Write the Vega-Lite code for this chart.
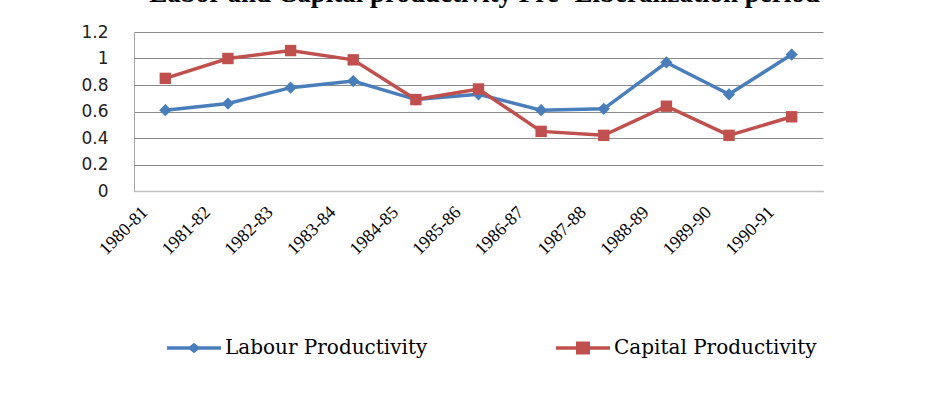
{
  "$schema": "https://vega.github.io/schema/vega-lite/v6.json",
  "width": 689,
  "height": 159,
  "autosize": {"type": "none"},
  "padding": {"left": 134, "top": 32, "right": 124, "bottom": 218},
  "background": "white",
  "title": {
    "text": "Labor and Capital productivity Pre- Liberalization period",
    "font": "Liberation Serif",
    "fontSize": 27,
    "fontWeight": "bold",
    "color": "black",
    "anchor": "middle",
    "frame": "group",
    "baseline": "alphabetic",
    "offset": 4,
    "dx": 6,
    "dy": 10
  },
  "config": {
    "view": {"stroke": null},
    "legend": {"padding": 0}
  },
  "data": {
    "values": [
      {"period": "1980-81", "series": "Labour Productivity", "value": 0.61},
      {"period": "1981-82", "series": "Labour Productivity", "value": 0.66},
      {"period": "1982-83", "series": "Labour Productivity", "value": 0.78},
      {"period": "1983-84", "series": "Labour Productivity", "value": 0.83},
      {"period": "1984-85", "series": "Labour Productivity", "value": 0.69},
      {"period": "1985-86", "series": "Labour Productivity", "value": 0.73},
      {"period": "1986-87", "series": "Labour Productivity", "value": 0.61},
      {"period": "1987-88", "series": "Labour Productivity", "value": 0.62},
      {"period": "1988-89", "series": "Labour Productivity", "value": 0.97},
      {"period": "1989-90", "series": "Labour Productivity", "value": 0.73},
      {"period": "1990-91", "series": "Labour Productivity", "value": 1.03},
      {"period": "1980-81", "series": "Capital Productivity", "value": 0.85},
      {"period": "1981-82", "series": "Capital Productivity", "value": 1.0},
      {"period": "1982-83", "series": "Capital Productivity", "value": 1.06},
      {"period": "1983-84", "series": "Capital Productivity", "value": 0.99},
      {"period": "1984-85", "series": "Capital Productivity", "value": 0.69},
      {"period": "1985-86", "series": "Capital Productivity", "value": 0.77},
      {"period": "1986-87", "series": "Capital Productivity", "value": 0.45},
      {"period": "1987-88", "series": "Capital Productivity", "value": 0.42},
      {"period": "1988-89", "series": "Capital Productivity", "value": 0.64},
      {"period": "1989-90", "series": "Capital Productivity", "value": 0.42},
      {"period": "1990-91", "series": "Capital Productivity", "value": 0.56}
    ]
  },
  "encoding": {
    "x": {
      "field": "period",
      "type": "ordinal",
      "sort": null,
      "scale": {"type": "point", "padding": 0.5},
      "axis": {
        "title": null,
        "labelAngle": -45,
        "labelFont": "Liberation Serif",
        "labelFontSize": 18,
        "labelColor": "black",
        "labelOffset": -27,
        "labelPadding": 12,
        "ticks": false,
        "domainColor": "#bfbfbf",
        "domainWidth": 1.5,
        "grid": false
      }
    },
    "y": {
      "field": "value",
      "type": "quantitative",
      "scale": {"domain": [0, 1.2], "nice": false},
      "axis": {
        "title": null,
        "values": [0, 0.2, 0.4, 0.6, 0.8, 1, 1.2],
        "format": ".1~f",
        "labelFont": "DejaVu Sans",
        "labelFontSize": 17,
        "labelColor": "#222222",
        "labelPadding": 26,
        "ticks": false,
        "domainColor": "#a6a6a6",
        "grid": true,
        "gridColor": "#8c8c8c",
        "gridWidth": 1
      }
    },
    "color": {
      "field": "series",
      "type": "nominal",
      "scale": {"domain": ["Labour Productivity", "Capital Productivity"], "range": ["#4a7ebb", "#c0504d"]},
      "legend": {
        "title": null,
        "orient": "none",
        "legendX": 33,
        "legendY": 289,
        "direction": "horizontal",
        "columnPadding": 128,
        "symbolSize": 2916,
        "symbolStrokeWidth": 0,
        "labelFont": "DejaVu Serif",
        "labelFontSize": 20,
        "labelColor": "black",
        "labelOffset": 4,
        "labelLimit": 400,
        "encode": {
          "symbols": {
            "update": {
              "shape": {"signal": "datum.value === 'Labour Productivity' ? 'M-1,-0.065H1V0.065H-1Z M-0.24,0L0,-0.19L0.24,0L0,0.19Z' : 'M-1,-0.065H1V0.065H-1Z M-0.26,-0.24H0.26V0.24H-0.26Z'"},
              "fill": {"signal": "datum.value === 'Labour Productivity' ? '#4a7ebb' : '#c0504d'"},
              "fillOpacity": {"value": 1},
              "strokeWidth": {"value": 0}
            }
          }
        }
      }
    }
  },
  "layer": [
    {
      "mark": {"type": "line", "strokeWidth": 3.5}
    },
    {
      "transform": [{"filter": "datum.series === 'Labour Productivity'"}],
      "mark": {"type": "point", "filled": true, "opacity": 1, "size": 150, "shape": "diamond"}
    },
    {
      "transform": [{"filter": "datum.series === 'Capital Productivity'"}],
      "mark": {"type": "point", "filled": true, "opacity": 1, "size": 130, "shape": "square"}
    }
  ]
}
